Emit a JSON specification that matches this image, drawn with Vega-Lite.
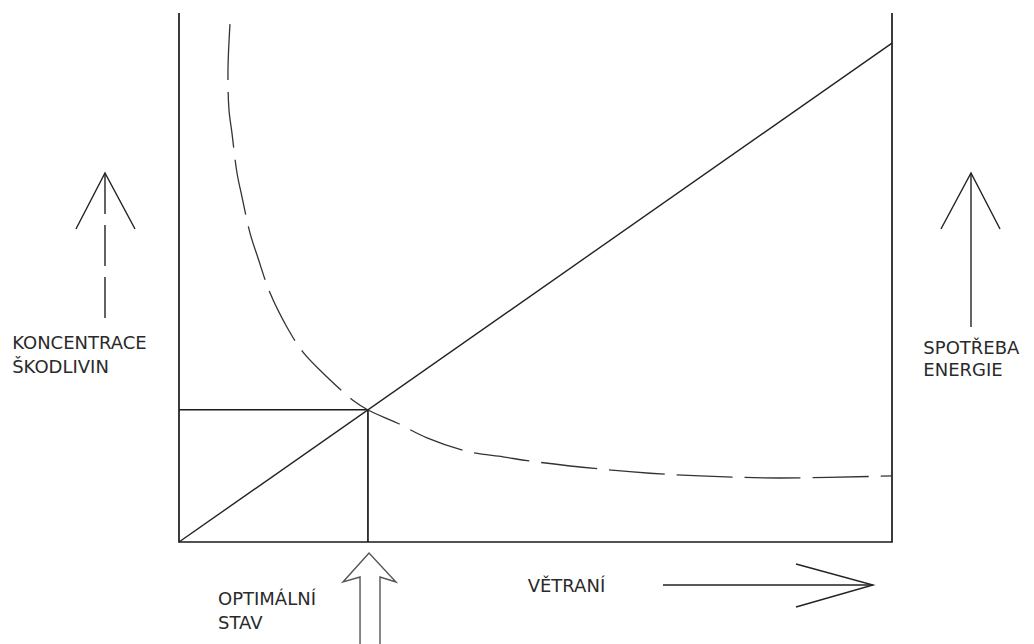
{
  "$schema": "https://vega.github.io/schema/vega-lite/v6.json",
  "autosize": {"type": "none"},
  "width": 713,
  "height": 529,
  "padding": {"left": 179, "top": 13, "right": 142, "bottom": 102},
  "background": "white",
  "config": {"view": {"stroke": null}},
  "datasets": {
    "segs": [
      {"id": "frameL", "kind": "frame", "i": 0, "x": 0, "y": 100},
      {"id": "frameL", "kind": "frame", "i": 1, "x": 0, "y": 0},
      {"id": "frameL", "kind": "frame", "i": 2, "x": 100, "y": 0},
      {"id": "frameL", "kind": "frame", "i": 3, "x": 100, "y": 100},
      {"id": "energy", "kind": "solid", "i": 0, "x": 0, "y": 0},
      {"id": "energy", "kind": "solid", "i": 1, "x": 100, "y": 94.3},
      {"id": "opt", "kind": "frame", "i": 0, "x": 0, "y": 25},
      {"id": "opt", "kind": "frame", "i": 1, "x": 26.5, "y": 25},
      {"id": "opt", "kind": "frame", "i": 2, "x": 26.5, "y": 0},
      {"id": "headL", "kind": "solid", "i": 0, "x": -14.45, "y": 59.17},
      {"id": "headL", "kind": "solid", "i": 1, "x": -10.38, "y": 69.75},
      {"id": "headL", "kind": "solid", "i": 2, "x": -6.17, "y": 59.17},
      {"id": "shaftR", "kind": "solid", "i": 0, "x": 111.08, "y": 69.75},
      {"id": "shaftR", "kind": "solid", "i": 1, "x": 111.08, "y": 40.64},
      {"id": "headR", "kind": "solid", "i": 0, "x": 106.87, "y": 59.17},
      {"id": "headR", "kind": "solid", "i": 1, "x": 111.08, "y": 69.75},
      {"id": "headR", "kind": "solid", "i": 2, "x": 115.15, "y": 59.17},
      {"id": "vent", "kind": "solid", "i": 0, "x": 67.88, "y": -8.13},
      {"id": "vent", "kind": "solid", "i": 1, "x": 97.34, "y": -8.13},
      {"id": "ventHead", "kind": "solid", "i": 0, "x": 86.54, "y": -4.16},
      {"id": "ventHead", "kind": "solid", "i": 1, "x": 97.34, "y": -8.13},
      {"id": "ventHead", "kind": "solid", "i": 2, "x": 86.54, "y": -12.29},
      {"id": "dbl", "kind": "hollow", "i": 0, "x": 25.39, "y": -21},
      {"id": "dbl", "kind": "hollow", "i": 1, "x": 25.39, "y": -6.62},
      {"id": "dbl", "kind": "hollow", "i": 2, "x": 23.0, "y": -7.56},
      {"id": "dbl", "kind": "hollow", "i": 3, "x": 26.65, "y": -2.08},
      {"id": "dbl", "kind": "hollow", "i": 4, "x": 30.43, "y": -7.56},
      {"id": "dbl", "kind": "hollow", "i": 5, "x": 28.19, "y": -6.62},
      {"id": "dbl", "kind": "hollow", "i": 6, "x": 28.19, "y": -21},
      {"id": "shaftL", "kind": "dashshaft", "i": 0, "x": -10.38, "y": 69.75},
      {"id": "shaftL", "kind": "dashshaft", "i": 1, "x": -10.38, "y": 40.45}
    ],
    "curve": [
      {"i": 0, "x": 7.15, "y": 97.9},
      {"i": 1, "x": 6.87, "y": 89.2},
      {"i": 2, "x": 7.01, "y": 81.7},
      {"i": 3, "x": 7.43, "y": 77.3},
      {"i": 4, "x": 8.13, "y": 69.8},
      {"i": 5, "x": 8.84, "y": 65.2},
      {"i": 6, "x": 9.96, "y": 58.4},
      {"i": 7, "x": 11.08, "y": 53.7},
      {"i": 8, "x": 12.76, "y": 47.1},
      {"i": 9, "x": 15.15, "y": 40.6},
      {"i": 10, "x": 17.39, "y": 35.9},
      {"i": 11, "x": 20.76, "y": 31.2},
      {"i": 12, "x": 24.68, "y": 26.5},
      {"i": 13, "x": 26.5, "y": 24.95},
      {"i": 14, "x": 30.58, "y": 22.5},
      {"i": 15, "x": 34.78, "y": 19.7},
      {"i": 16, "x": 40.81, "y": 17.0},
      {"i": 17, "x": 45.44, "y": 16.1},
      {"i": 18, "x": 49.23, "y": 15.3},
      {"i": 19, "x": 59.05, "y": 13.8},
      {"i": 20, "x": 66.06, "y": 13.0},
      {"i": 21, "x": 73.07, "y": 12.5},
      {"i": 22, "x": 84.29, "y": 12.1},
      {"i": 23, "x": 100, "y": 12.5}
    ],
    "labels": [
      {"t": "KONCENTRACE", "x": -23.4, "y": 36.4},
      {"t": "ŠKODLIVIN", "x": -23.4, "y": 32.0},
      {"t": "SPOTŘEBA", "x": 104.4, "y": 35.5},
      {"t": "ENERGIE", "x": 104.4, "y": 31.3},
      {"t": "OPTIMÁLNÍ", "x": 5.47, "y": -11.9},
      {"t": "STAV", "x": 5.47, "y": -16.4},
      {"t": "VĚTRANÍ", "x": 48.9, "y": -9.4}
    ]
  },
  "encoding": {
    "x": {"field": "x", "type": "quantitative", "scale": {"domain": [0, 100], "nice": false, "zero": false}, "axis": null},
    "y": {"field": "y", "type": "quantitative", "scale": {"domain": [0, 100], "nice": false, "zero": false}, "axis": null}
  },
  "layer": [
    {
      "data": {"name": "segs"},
      "transform": [{"filter": "datum.kind === 'frame'"}],
      "mark": {"type": "line", "clip": false, "stroke": "#1a1a1a", "strokeWidth": 1.7},
      "encoding": {"detail": {"field": "id"}, "order": {"field": "i", "type": "quantitative"}}
    },
    {
      "data": {"name": "segs"},
      "transform": [{"filter": "datum.kind === 'solid'"}],
      "mark": {"type": "line", "clip": false, "stroke": "#222222", "strokeWidth": 1.4},
      "encoding": {"detail": {"field": "id"}, "order": {"field": "i", "type": "quantitative"}}
    },
    {
      "data": {"name": "segs"},
      "transform": [{"filter": "datum.kind === 'hollow'"}],
      "mark": {"type": "line", "clip": false, "stroke": "#555555", "strokeWidth": 1.4},
      "encoding": {"detail": {"field": "id"}, "order": {"field": "i", "type": "quantitative"}}
    },
    {
      "data": {"name": "segs"},
      "transform": [{"filter": "datum.kind === 'dashshaft'"}],
      "mark": {"type": "line", "clip": false, "stroke": "#222222", "strokeWidth": 1.4, "strokeDash": [41, 11]},
      "encoding": {"detail": {"field": "id"}, "order": {"field": "i", "type": "quantitative"}}
    },
    {
      "data": {"name": "curve"},
      "mark": {"type": "line", "clip": false, "stroke": "#333333", "strokeWidth": 1.3, "strokeDash": [56, 12], "interpolate": "catmull-rom"},
      "encoding": {"order": {"field": "i", "type": "quantitative"}}
    },
    {
      "data": {"name": "labels"},
      "mark": {"type": "text", "clip": false, "align": "left", "baseline": "alphabetic", "font": "DejaVu Sans", "fontSize": 18, "fill": "#2a2a2a"},
      "encoding": {"text": {"field": "t"}}
    }
  ]
}
